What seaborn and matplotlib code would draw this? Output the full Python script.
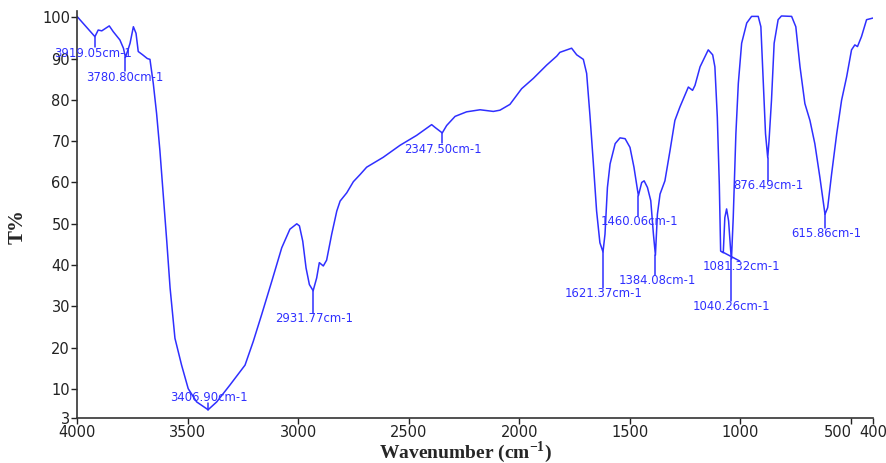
import matplotlib
matplotlib.use("Agg")
import matplotlib.pyplot as plt
import matplotlib.transforms as mtransforms
import seaborn as sns
import pandas as pd

# Spectrum (wavenumber cm-1, transmittance %)
wavenumber = [4000, 3960, 3919, 3904, 3888, 3854, 3836, 3806, 3790, 3781, 3770, 3760,
              3745, 3733, 3723, 3703, 3682, 3670, 3655, 3640, 3625, 3610, 3594, 3579,
              3557, 3527, 3497, 3459, 3407, 3368, 3308, 3240, 3203, 3165, 3119, 3074,
              3037, 3006, 2994, 2979, 2964, 2949, 2932, 2916, 2904, 2886, 2871, 2848,
              2825, 2810, 2780, 2750, 2720, 2690, 2615, 2539, 2464, 2396, 2380, 2348,
              2328, 2290, 2238, 2177, 2117, 2087, 2042, 1989, 1936, 1876, 1830, 1816,
              1763, 1740, 1710, 1695, 1680, 1665, 1650, 1635, 1621, 1612, 1601, 1589,
              1566, 1544, 1521, 1499, 1481, 1461, 1446, 1435, 1420, 1405, 1393, 1384,
              1375, 1363, 1341, 1318, 1296, 1273, 1235, 1216, 1205, 1182, 1145, 1125,
              1115, 1104, 1095, 1089, 1077, 1070, 1062, 1053, 1044, 1040, 1032, 1020,
              1009, 994, 971, 949, 919, 907, 896, 886, 876, 870, 859, 847, 829, 814,
              768, 749, 730, 708, 685, 663, 640, 617, 605, 587, 564, 542, 519, 497,
              482, 470, 452, 429, 400]
transmittance = [100.2, 97.8, 95.3, 96.9, 96.7, 97.9, 96.5, 94.5, 92.5, 90.3, 92.0, 93.7,
                 97.7, 96.1, 91.7, 90.9, 90.0, 89.8, 84.0, 76.7, 67.7, 57.2, 45.8, 34.5,
                 22.3, 15.8, 10.1, 6.9, 5.0, 6.9, 11.0, 15.8, 21.5, 28.0, 36.1, 44.2,
                 48.7, 50.0, 49.5, 45.8, 39.3, 35.3, 33.8, 36.9, 40.6, 39.8, 41.2, 47.5,
                 53.1, 55.5, 57.5, 60.2, 61.9, 63.7, 66.1, 69.0, 71.4, 74.0, 73.3, 72.0,
                 73.8, 76.0, 77.1, 77.6, 77.2, 77.5, 78.9, 82.7, 85.2, 88.4, 90.6, 91.5,
                 92.5, 90.9, 89.8, 86.4, 76.2, 64.9, 53.1, 45.4, 43.2, 47.5, 58.8, 64.5,
                 69.4, 70.8, 70.6, 68.5, 63.7, 56.8, 60.0, 60.4, 58.8, 55.6, 47.5, 42.4,
                 52.3, 57.2, 60.4, 67.7, 75.0, 78.3, 83.1, 82.3, 83.5, 88.0, 92.1, 90.9,
                 88.0, 75.8, 59.6, 43.4, 43.0, 51.5, 53.6, 50.7, 43.8, 41.5, 51.5, 71.8,
                 84.0, 93.7, 98.6, 100.2, 100.2, 97.7, 84.0, 71.8, 66.0, 70.2, 79.9, 93.7, 99.4, 100.3,
                 100.2, 97.7, 88.0, 79.1, 75.0, 69.4, 61.2, 52.3, 53.9, 62.1, 71.8, 79.9, 85.6, 92.1,
                 93.3, 92.9, 95.3, 99.4, 99.8]

# Peak annotations
peak_labels = ["3919.05cm-1", "3780.80cm-1", "3406.90cm-1", "2931.77cm-1", "2347.50cm-1",
               "1621.37cm-1", "1460.06cm-1", "1384.08cm-1", "1081.32cm-1", "1040.26cm-1",
               "876.49cm-1", "615.86cm-1"]
peak_wn = [3919, 3781, 3407, 2932, 2348, 1621, 1461, 1384, 1081, 1040, 876, 617]
peak_top = [95.3, 90.3, 5.0, 33.8, 72.0, 43.2, 56.8, 42.4, 43.2, 41.5, 66.0, 52.3]
# marker line end (wavenumber, T) and label centre (wavenumber, T)
marker_end_wn = [3919, 3781, 3407, 2932, 2348, 1621, 1461, 1384, 1003, 1040, 876, 617]
marker_end_t = [92.8, 87.0, 6.6, 28.3, 69.5, 34.5, 51.9, 37.6, 41.0, 31.3, 60.4, 48.9]
label_wn = [3928, 3783, 3403, 2928, 2347, 1620, 1454, 1377, 994, 1038, 875, 612]
label_t = [91.3, 85.4, 8.0, 27.2, 68.1, 33.1, 50.6, 36.3, 39.6, 30.0, 59.2, 47.6]

x_ticks = [4000, 3500, 3000, 2500, 2000, 1500, 1000, 500, 400]
y_ticks = [3, 10, 20, 30, 40, 50, 60, 70, 80, 90, 100]

sns.set_style("ticks")
plt.rcParams["font.family"] = ["DejaVu Sans"]
plt.rcParams["mathtext.fontset"] = "custom"
plt.rcParams["mathtext.rm"] = "Liberation Serif:bold"
plt.rcParams["mathtext.bf"] = "Liberation Serif:bold"

blue = "#2f2fff"
fig = plt.figure(figsize=(8.86, 4.63), dpi=100)
ax = fig.add_axes([0.0869, 0.0972, 0.8984, 0.879])

df = pd.DataFrame({"wn": wavenumber, "T": transmittance})
sns.lineplot(data=df, x="wn", y="T", sort=False, color=blue, linewidth=1.1, ax=ax)

for wn0, t0, wn1, t1 in zip(peak_wn, peak_top, marker_end_wn, marker_end_t):
    ax.plot([wn0, wn1], [t0, t1], color=blue, linewidth=1.1)
for lab, lw, lt in zip(peak_labels, label_wn, label_t):
    ax.text(lw, lt, lab, color=blue, fontsize=8.4, ha="center", va="center", clip_on=False)

ax.set_xlim(4000, 400)
ax.set_ylim(3, 101.5)
ax.set_xticks(x_ticks)
ax.set_xticklabels([str(v) for v in x_ticks])
ax.set_yticks(y_ticks)
ax.set_yticklabels([str(v) for v in y_ticks])
ax.tick_params(axis="both", labelsize=10.5, length=4, width=1, colors="#222222", pad=1)
for s in ["top", "right"]:
    ax.spines[s].set_visible(False)
for s in ["left", "bottom"]:
    ax.spines[s].set_color("#333333")
    ax.spines[s].set_linewidth(1.2)

# nudge the "500" label left so it does not collide with "400"
for lbl in ax.get_xticklabels():
    if lbl.get_text() == "500":
        lbl.set_transform(lbl.get_transform() +
                          mtransforms.ScaledTranslation(-13 / 100, 0, fig.dpi_scale_trans))

ax.set_xlabel("Wavenumber (cm$^{\\mathbf{-1}}$)", fontsize=14, fontweight="bold",
              family="Liberation Serif")
ax.xaxis.set_label_coords(0.488, -0.052)
ax.set_ylabel("T%", fontsize=15, fontweight="bold", family="Liberation Serif", va="center")
ax.yaxis.set_label_coords(-0.074, 0.47)

fig.savefig("out.png", dpi=100)
